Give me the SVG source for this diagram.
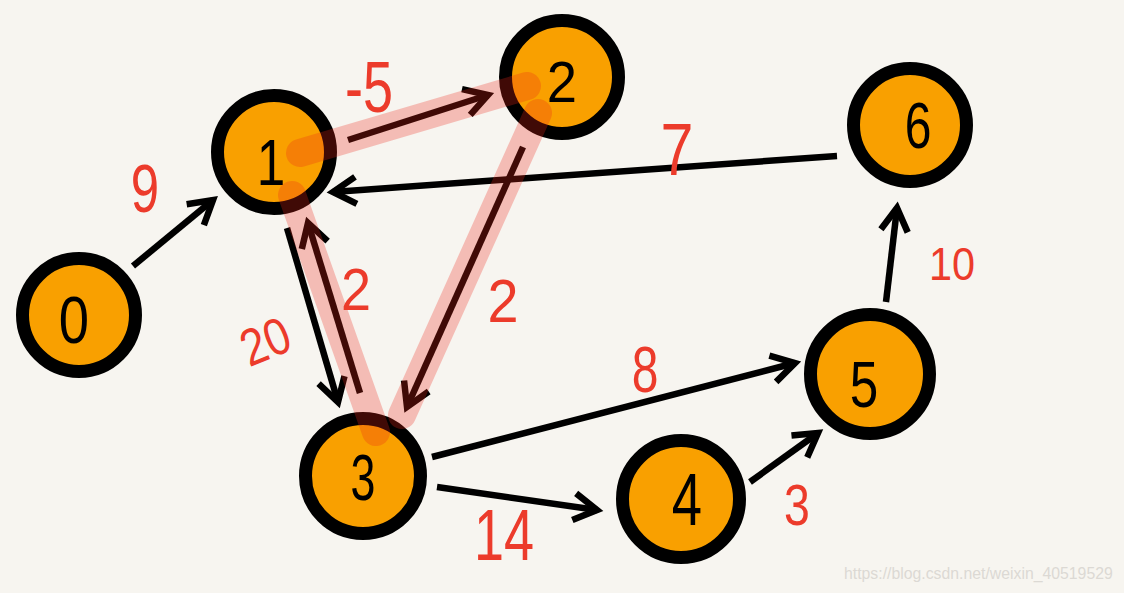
<svg xmlns="http://www.w3.org/2000/svg" width="1124" height="593" viewBox="0 0 1124 593">
<style>
.bg{fill:#F7F5F0}
.ring{fill:#F9A000;stroke:#000;stroke-width:13}
.nd{font-family:"Liberation Sans",Arial,sans-serif;font-size:64px;fill:#000;text-anchor:middle}
.edge{stroke:#000;stroke-width:6.5;fill:none;marker-end:url(#chev)}
.hl{stroke:rgb(237,40,25);stroke-width:28;stroke-linecap:round;fill:none}
.lbl{font-family:"Liberation Sans",Arial,sans-serif;fill:#EC3B2B;text-anchor:middle}
.wm{font-family:"Liberation Sans",Arial,sans-serif;font-size:15.8px;fill:#DCD9D4}
</style>
<defs>
<marker id="chev" markerUnits="userSpaceOnUse" orient="auto" refX="0" refY="0" markerWidth="60" markerHeight="60" overflow="visible">
<path d="M -23 -13.5 L 0 0 L -23 13.5" fill="none" stroke="#000" stroke-width="6.5" stroke-linejoin="miter"/>
</marker>
</defs>
<rect class="bg" x="0" y="0" width="1124" height="593"/>
<g id="connectors">
<line class="edge" x1="133" y1="266" x2="213" y2="200"/>
<line class="edge" x1="348" y1="140" x2="488" y2="95"/>
<line class="edge" x1="523" y1="147" x2="407" y2="407"/>
<line class="edge" x1="360" y1="393" x2="308" y2="223"/>
<line class="edge" x1="287" y1="228" x2="338" y2="402"/>
<line class="edge" x1="837" y1="156" x2="333" y2="192"/>
<line class="edge" x1="886" y1="302" x2="897" y2="208"/>
<line class="edge" x1="432" y1="457" x2="795" y2="363"/>
<line class="edge" x1="437" y1="487" x2="597" y2="510"/>
<line class="edge" x1="750" y1="482" x2="818" y2="433"/>
</g>
<g id="node0"><circle class="ring" cx="79" cy="315" r="56.5"/><text class="nd" transform="translate(74,343) scale(0.85,1.05)">0</text></g>
<g id="node1"><circle class="ring" cx="274" cy="152" r="56.5"/><text class="nd" transform="translate(271,185) scale(0.8,1)">1</text></g>
<g id="node2"><circle class="ring" cx="562" cy="77" r="56.5"/><text class="nd" transform="translate(562,102) scale(0.85,0.9)">2</text></g>
<g id="node3"><circle class="ring" cx="363" cy="476" r="57.5"/><text class="nd" transform="translate(363,500) scale(0.7,1)">3</text></g>
<g id="node4"><circle class="ring" cx="681" cy="499" r="58.5"/><text class="nd" transform="translate(687,525) scale(0.85,1.15)">4</text></g>
<g id="node5"><circle class="ring" cx="870" cy="374" r="59.5"/><text class="nd" transform="translate(864,407) scale(0.8,1)">5</text></g>
<g id="node6"><circle class="ring" cx="910" cy="125" r="56.5"/><text class="nd" transform="translate(918,148) scale(0.75,1)">6</text></g>
<g id="highlight" opacity="0.27">
<line class="hl" x1="300" y1="153" x2="527" y2="86"/>
<line class="hl" x1="538" y1="113" x2="402" y2="415"/>
<line class="hl" x1="292" y1="195" x2="376" y2="432"/>
</g>
<g id="labels">
<text class="lbl" font-size="72" transform="translate(369,112) scale(0.75,1)">-5</text>
<text class="lbl" font-size="68" transform="translate(145,212) scale(0.75,1)">9</text>
<text class="lbl" font-size="74" transform="translate(677,175) scale(0.8,1)">7</text>
<text class="lbl" font-size="46" transform="translate(952,280) scale(0.9,1)">10</text>
<text class="lbl" font-size="60" transform="translate(356,310) scale(0.9,1)">2</text>
<text class="lbl" font-size="62" transform="translate(503,322) scale(0.9,1)">2</text>
<text class="lbl" font-size="52" transform="translate(272,358) rotate(-22) scale(0.85,1)">20</text>
<text class="lbl" font-size="64" transform="translate(645,392) scale(0.75,1)">8</text>
<text class="lbl" font-size="72" transform="translate(504,560) scale(0.75,1)">14</text>
<text class="lbl" font-size="58" transform="translate(797,525) scale(0.8,1)">3</text>
</g>
<text class="wm" x="844" y="579">https://blog.csdn.net/weixin_40519529</text>
</svg>
